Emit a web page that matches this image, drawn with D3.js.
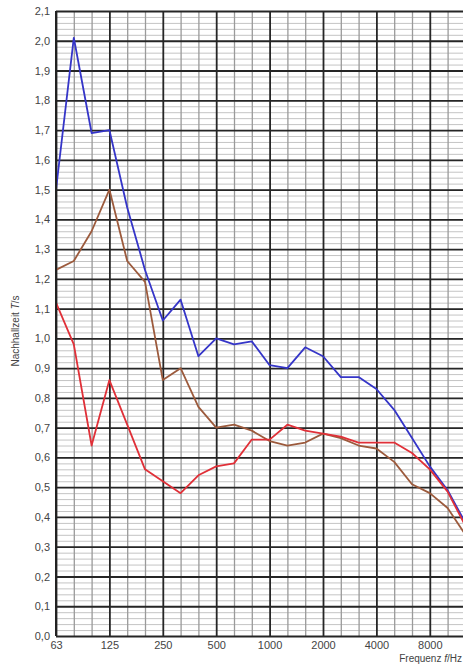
<!DOCTYPE html>
<html>
<head>
<meta charset="utf-8">
<script src="https://cdn.jsdelivr.net/npm/d3@7"></script>
<style>
  body { margin: 0; background: #fff; }
  text { font-family: "Liberation Sans", Arial, sans-serif; fill: #444; }
</style>
</head>
<body>
<svg width="463" height="666"></svg>
<script>
// terzbaender, nominal
var bands = ["63","80","100","125","160","200","250","315","400","500","630","800",
             "1000","1250","1600","2000","2500","3150","4000","5000","6300","8000","10000","12500"];
var octaveLabels = ["63","125","250","500","1000","2000","4000","8000"];
var yTicks = [0,0.1,0.2,0.3,0.4,0.5,0.6,0.7,0.8,0.9,1.0,1.1,1.2,1.3,1.4,1.5,1.6,1.7,1.8,1.9,2.0,2.1];

// Nachhallzeit in s
var blue  = [1.50,2.01,1.69,1.70,1.44,1.23,1.06,1.13,0.94,1.00,0.98,0.99,
             0.91,0.90,0.97,0.94,0.87,0.87,0.83,0.76,0.665,0.57,0.49,0.38];
var brown = [1.23,1.26,1.36,1.50,1.26,1.19,0.86,0.90,0.77,0.70,0.71,0.69,
             0.655,0.64,0.65,0.68,0.665,0.64,0.63,0.585,0.51,0.48,0.43,0.34];
var red   = [1.12,0.98,0.64,0.86,0.71,0.56,0.52,0.48,0.54,0.57,0.58,0.66,
             0.66,0.71,0.69,0.68,0.67,0.65,0.65,0.65,0.615,0.56,0.485,0.37];

var svg = d3.select("svg");
// window.top ist read-only, daher eigene namen
var plotL = 56, plotT = 11, plotB = 636, plotR = 465.4;

var x = d3.scalePoint().domain(bands).range([plotL, plotR]);
var y = d3.scaleLinear().domain([0, 2.1]).range([plotB, plotT]);

var minorY = d3.range(0, 106).map(function(i){ return +(i * 0.02).toFixed(2); });
var thirds = bands.filter(function(b){ return octaveLabels.indexOf(b) < 0; });

// feine horizontale linien
svg.append("g")
    .attr("transform", "translate(" + plotL + ",0)")
    .call(d3.axisLeft(y).tickValues(minorY).tickSize(-(plotR - plotL)).tickFormat(""))
    .call(function(g){ g.select(".domain").remove(); })
    .selectAll("line").attr("stroke", "#c4c4c4").attr("stroke-width", 1);

// terz-linien
svg.append("g")
    .attr("transform", "translate(0," + plotB + ")")
    .call(d3.axisBottom(x).tickValues(thirds).tickSize(-(plotB - plotT)).tickFormat(""))
    .call(function(g){ g.select(".domain").remove(); })
    .selectAll("line").attr("stroke", "#9a9a9a").attr("stroke-width", 1.3);

// grobe horizontale linien
svg.append("g")
    .attr("transform", "translate(" + plotL + ",0)")
    .call(d3.axisLeft(y).tickValues(yTicks).tickSize(-(plotR - plotL)).tickFormat(""))
    .call(function(g){ g.select(".domain").remove(); })
    .selectAll("line").attr("stroke", "#262626").attr("stroke-width", 1.8);

// oktav-linien
svg.append("g")
    .attr("transform", "translate(0," + plotB + ")")
    .call(d3.axisBottom(x).tickValues(octaveLabels).tickSize(-(plotB - plotT)).tickFormat(""))
    .call(function(g){ g.select(".domain").remove(); })
    .selectAll("line").attr("stroke", "#262626").attr("stroke-width", 1.8);

// kurven
var line = d3.line()
    .x(function(d, i){ return x(bands[i]); })
    .y(function(d){ return y(d); });

[[blue, "#3535c8"], [brown, "#9c5a3c"], [red, "#e03038"]].forEach(function(s){
  svg.append("path")
    .datum(s[0])
    .attr("fill", "none")
    .attr("stroke", s[1])
    .attr("stroke-width", 1.8)
    .attr("stroke-linejoin", "round")
    .attr("d", line);
});

// achsen beschriftung
var yAxis = svg.append("g")
    .attr("transform", "translate(" + plotL + ",0)")
    .call(d3.axisLeft(y).tickValues(yTicks).tickSize(0).tickPadding(6)
      .tickFormat(function(d){ return d3.format(".1f")(d).replace(".", ","); }));
yAxis.select(".domain").remove();
yAxis.selectAll("text").attr("font-size", 11).attr("fill", "#444")
    .style("font-family", "'Liberation Sans', Arial, sans-serif");

var xAxis = svg.append("g")
    .attr("transform", "translate(0," + plotB + ")")
    .call(d3.axisBottom(x).tickValues(octaveLabels).tickSize(0).tickPadding(5));
xAxis.select(".domain").remove();
xAxis.selectAll("text").attr("font-size", 11).attr("fill", "#444")
    .style("font-family", "'Liberation Sans', Arial, sans-serif");

// rahmen links
svg.append("line")
    .attr("x1", plotL).attr("x2", plotL).attr("y1", plotT).attr("y2", plotB)
    .attr("stroke", "#222").attr("stroke-width", 2);

var yl = svg.append("text")
    .attr("transform", "translate(19,331) rotate(-90)")
    .attr("text-anchor", "middle")
    .attr("font-size", 10);
yl.append("tspan").text("Nachhallzeit ");
yl.append("tspan").attr("font-style", "italic").text("T");
yl.append("tspan").text("/s");

var xl = svg.append("text")
    .attr("x", 462).attr("y", 662)
    .attr("text-anchor", "end")
    .attr("font-size", 10);
xl.append("tspan").text("Frequenz ");
xl.append("tspan").attr("font-style", "italic").text("f");
xl.append("tspan").text("/Hz");
</script>
</body>
</html>
